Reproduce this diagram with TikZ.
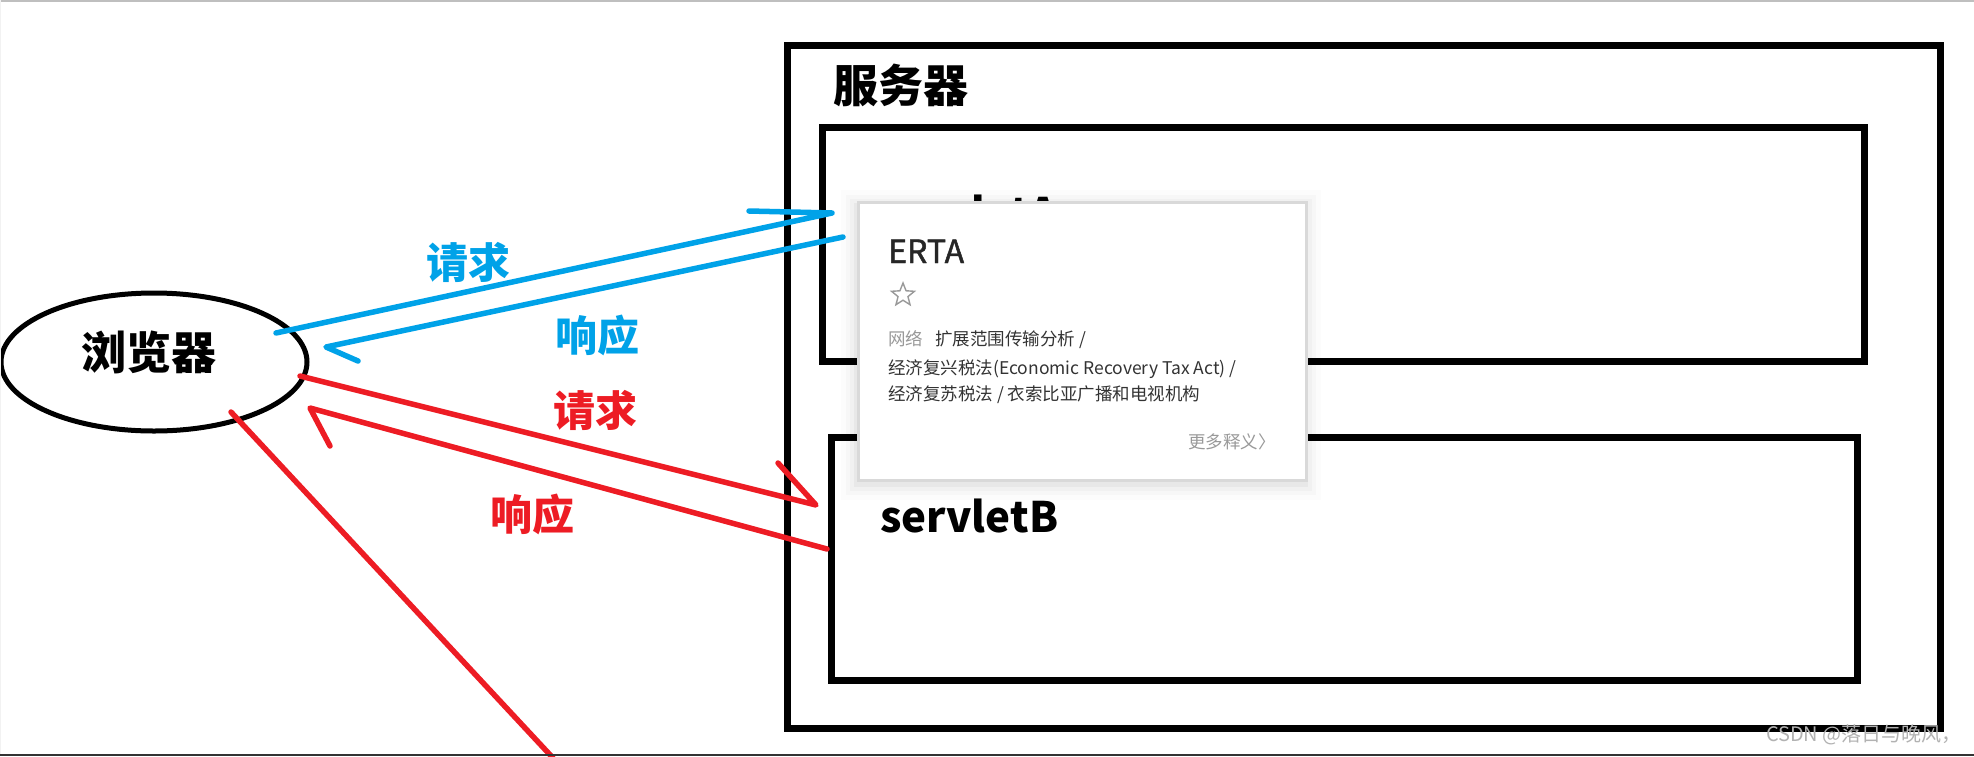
\documentclass[tikz,border=0pt]{standalone}
\usepackage{fontspec}
\newfontfamily\cjk{Noto Sans CJK SC}
\newfontfamily\cjkmid{Noto Sans CJK SC}[FakeBold=1.5]
\usetikzlibrary{shapes.geometric}

\definecolor{paintblue}{RGB}{0,162,232}
\definecolor{paintred}{RGB}{237,28,36}
\definecolor{tipgrey}{RGB}{153,153,153}
\definecolor{tipdark}{RGB}{51,51,51}
\definecolor{tipborder}{RGB}{217,217,217}

\begin{document}
\begin{tikzpicture}[x=1pt, y=-1pt,
	box/.style={draw, line width=7pt, inner sep=0pt, outer sep=0pt, anchor=north west},
	bluepen/.style={paintblue, line width=5.5pt, line cap=round, line join=round},
	redpen/.style={paintred, line width=5.5pt, line cap=round, line join=round},
	said/.style={font=\cjk\bfseries\fontsize{42}{48}\selectfont, inner sep=0pt},
	title/.style={font=\cjk\bfseries\fontsize{45}{52}\selectfont, inner sep=0pt},
	slotname/.style={font=\cjk\bfseries\fontsize{42}{48}\selectfont, inner sep=0pt, anchor=base west},
	tiptext/.style={font=\cjk\fontsize{17.5}{20}\selectfont, text=tipdark, inner sep=0pt, anchor=west}]

	\useasboundingbox (0,0) rectangle (1974,756);

	% server with its two servlets
	\node[box, minimum width=1153pt, minimum height=683pt] (server) at (787,45) {};
	\node[box, minimum width=1042pt, minimum height=234pt] (boxA) at (822,127) {};
	\node[box, minimum width=1026pt, minimum height=243pt] (boxB) at (831,437) {};
	\node[title] (servertxt) at (901,85) {服务器};
	\node[slotname] (servletA) at (880,228) {servletA};
	\node[slotname] (servletB) at (880,532) {servletB};

	% the browser
	\node[draw, ellipse, line width=5pt, minimum width=306pt, minimum height=138pt, inner sep=0pt] (browser) at (154,362) {};
	\node[title] (browsertxt) at (149,352) {浏览器};

	% hand drawn arrows, one barb each
	\coordinate (bq1) at (276,333);
	\coordinate (bq2) at (832,213);
	\coordinate (bq3) at (749,211);
	\coordinate (bp1) at (843,237);
	\coordinate (bp2) at (326,347);
	\coordinate (bp3) at (358,361);
	\coordinate (rq1) at (300,376);
	\coordinate (rq2) at (816,505);
	\coordinate (rq3) at (778,463);
	\coordinate (rp1) at (827,549);
	\coordinate (rp2) at (310,408);
	\coordinate (rp3) at (330,446);
	\coordinate (rl1) at (231,412);
	\coordinate (rl2) at (553,758);

	\draw[bluepen] (bq1) -- (bq2) -- (bq3);
	\draw[bluepen] (bp1) -- (bp2) -- (bp3);
	\draw[redpen] (rq1) -- (rq2) -- (rq3);
	\draw[redpen] (rp1) -- (rp2) -- (rp3);
	\draw[redpen] (rl1) -- (rl2);

	\node[said, text=paintblue] (bqtxt) at (468,262) {请求};
	\node[said, text=paintblue] (bptxt) at (597,335) {响应};
	\node[said, text=paintred] (rqtxt) at (595,410) {请求};
	\node[said, text=paintred] (rptxt) at (532,514) {响应};

	% dictionary popup lying on top of servletA
	\foreach \s/\o in {16/0.012, 11/0.018, 7/0.025, 3/0.035}
		\fill[black, opacity=\o] ({857-\s},{201-\s+5}) rectangle ({1305+\s},{479+\s+5});
	\node[draw=tipborder, fill=white, line width=2.5pt, minimum width=448pt, minimum height=278pt, inner sep=0pt, anchor=north west] (popup) at (857,201) {};
	\node[font=\cjkmid\fontsize{32}{36}\selectfont, text=black!85, inner sep=0pt, anchor=base west] (erta) at (888,263) {ERTA};
	\node[star, star points=5, star point ratio=2.3, draw=tipgrey, line width=1.4pt, minimum size=24pt, inner sep=0pt] (fav) at (903,295) {};
	\node[tiptext] (line1) at (888,340) {\textcolor{tipgrey}{网络}\hspace{12pt}扩展范围传输分析 /};
	\node[tiptext] (line2) at (888,369) {经济复兴税法(Economic Recovery Tax Act) /};
	\node[tiptext] (line3) at (888,395) {经济复苏税法 / 衣索比亚广播和电视机构};
	\node[tiptext, text=tipgrey, anchor=west] (more) at (1188,442) {更多释义〉};

	% screenshot edges and watermark
	\draw[black!25, line width=1.5pt] (0,0.75) -- (1974,0.75);
	\draw[black!5, line width=1pt] (0.5,0) -- (0.5,756);
	\draw[black!80, line width=2pt] (0,755) -- (1974,755);
	\node[font=\cjk\fontsize{20}{24}\selectfont, text=black!30, inner sep=0pt, anchor=east] (mark) at (1962,735) {CSDN @落日与晚风，};

\end{tikzpicture}
\end{document}
